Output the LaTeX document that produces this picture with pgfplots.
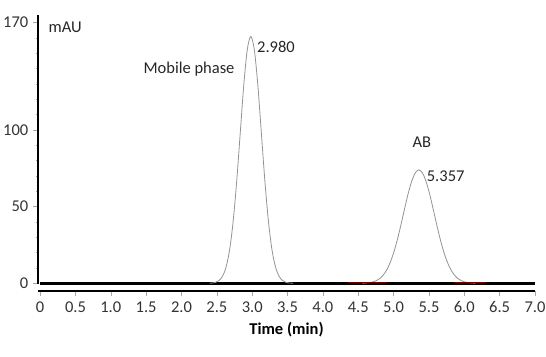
\documentclass[border=0pt]{standalone}
\usepackage{fontspec}
\setmainfont{Carlito}
\usepackage{pgfplots}
\pgfplotsset{compat=1.18}
\begin{document}
\fontsize{16.5}{19}\selectfont
\begin{tikzpicture}
\useasboundingbox (-38pt,-65pt) rectangle (508pt,291pt);
\begin{axis}[
  scale only axis,
  width=497pt, height=276pt,
  xmin=-0.03, xmax=7.0,
  ymin=-5, ymax=175,
  axis x line*=bottom,
  axis y line*=left,
  x axis line style={line width=2.2pt, -},
  y axis line style={draw=none},
  xtick={0,0.5,...,7.0},
  xticklabels={0,0.5,1.0,1.5,2.0,2.5,3.0,3.5,4.0,4.5,5.0,5.5,6.0,6.5,7.0},
  ytick={0,50,100,170},
  minor ytick={10,20,30,40,60,70,80,90,110,120,130,140,150,160},
  tick align=outside,
  major tick length=5pt,
  minor tick length=2pt,
  x tick style={gray!70, line width=0.6pt},
  y tick style={gray!70, line width=0.8pt},
  tick label style={font=\fontsize{16.5}{19}\selectfont, text=black!80},
  yticklabel style={xshift=1pt},
  /pgf/number format/assume math mode=true,
  xlabel={\textbf{Time (min)}},
  xlabel style={font=\fontsize{16.5}{19}\selectfont, yshift=2pt},
  clip=false,
]
% baseline
\addplot[black, line width=2.4pt] coordinates {(0,0) (7,0)};
% y axis line
\addplot[black, line width=1.6pt] coordinates {(-0.03,-0.5) (-0.03,175)};
% peak 1 (mobile phase)
\addplot[gray!85, line width=0.8pt, smooth] coordinates {
(2.40,0.1) (2.43,0.2) (2.48,0.6) (2.53,1.8) (2.58,4.6) (2.63,10.6) (2.68,21.8)
(2.73,40.2) (2.78,66.2) (2.83,97.6) (2.88,129.0) (2.93,152.3) (2.98,161)
(3.03,152.3) (3.08,129.0) (3.13,97.6) (3.18,66.2) (3.23,40.2) (3.28,21.8)
(3.33,10.6) (3.38,4.6) (3.43,1.8) (3.48,0.6) (3.53,0.2) (3.58,0.1)
};
% peak 2 (AB)
\addplot[gray!85, line width=0.8pt, smooth] coordinates {
(4.557,0.1) (4.607,0.2) (4.657,0.5) (4.707,0.9) (4.757,1.8) (4.807,3.2) (4.857,5.6)
(4.907,9.1) (4.957,14.2) (5.007,20.9) (5.057,29.2) (5.107,38.8) (5.157,49.0)
(5.207,58.7) (5.257,66.7) (5.307,72.1) (5.357,74) (5.407,72.1) (5.457,66.7)
(5.507,58.7) (5.557,49.0) (5.607,38.8) (5.657,29.2) (5.707,20.9) (5.757,14.2)
(5.807,9.1) (5.857,5.6) (5.907,3.2) (5.957,1.8) (6.007,0.9) (6.057,0.5)
(6.107,0.2) (6.157,0.1)
};
% faint reddish trace near baseline
\addplot[red!45!black, line width=0.6pt] coordinates {(4.35,1.0) (4.9,1.0)};
\addplot[red!45!black, line width=0.6pt] coordinates {(5.85,1.0) (6.3,1.0)};
% labels
\node[anchor=west, text=black!85] at (axis cs:0.04,167) {mAU};
\node[anchor=east, text=black!85] at (axis cs:2.83,140) {Mobile phase};
\node[anchor=west, text=black!85] at (axis cs:2.99,154) {2.980};
\node[text=black!85] at (axis cs:5.40,92) {AB};
\node[anchor=west, text=black!85] at (axis cs:5.39,70) {5.357};
\end{axis}
\end{tikzpicture}
\end{document}
